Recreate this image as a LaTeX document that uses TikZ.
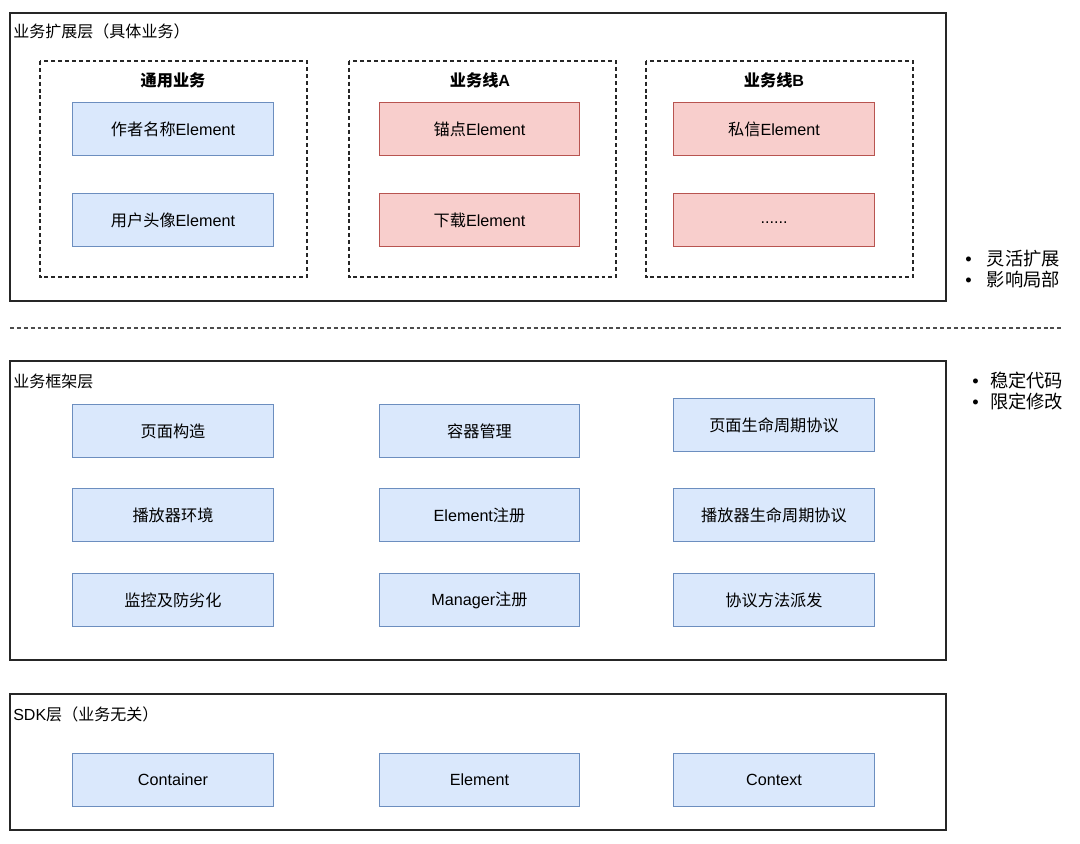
\documentclass[tikz,border=0pt]{standalone}
\usepackage{fontspec}
\setmainfont{Liberation Sans}
\newfontfamily\cjk{Noto Sans CJK SC}
\usetikzlibrary{positioning}

\definecolor{blueFill}{HTML}{DAE8FC}
\definecolor{blueLine}{HTML}{6C8EBF}
\definecolor{redFill}{HTML}{F8CECC}
\definecolor{redLine}{HTML}{B85450}

\tikzset{
  layer/.style={draw=black!85, line width=0.9pt},
  group/.style={draw=black!85, line width=0.9pt, dash pattern=on 2.8pt off 2.1pt},
  blk/.style={draw=blueLine, fill=blueFill, line width=0.7pt, minimum width=5cm,
    minimum height=1.33cm, inner sep=0pt, font=\fontsize{11.5}{14}\selectfont},
  hot/.style={blk, draw=redLine, fill=redFill},
  title/.style={anchor=west, inner sep=0pt, font=\fontsize{11.4}{14}\selectfont\cjk},
  gtitle/.style={inner sep=0pt, font=\fontsize{11.5}{14}\selectfont\cjk\bfseries},
  note/.style={anchor=west, inner sep=0pt, align=left, font=\fontsize{13}{16}\selectfont}
}

\begin{document}
\begin{tikzpicture}[x=0.025cm, y=-0.025cm]
  \useasboundingbox (0,0) rectangle (1080,843);

  % extension layer
  \draw[layer] (10,13) rectangle (946,301);
  \node[title] (extT) at (13,31) {业务扩展层（具体业务）};
  \draw[group] (40,61) rectangle (307,277);
  \draw[group] (349,61) rectangle (616,277);
  \draw[group] (646,61) rectangle (913,277);
  \node[gtitle] (g1) at (173,80) {通用业务};
  \node[gtitle] (g2) at (480,80) {业务线\textsf{\fontspec{Liberation Sans Bold}A}};
  \node[gtitle] (g3) at (774,80) {业务线\textsf{\fontspec{Liberation Sans Bold}B}};
  \node[blk] (author) at (173,129) {{\cjk 作者名称}Element};
  \node[blk] (avatar) at (173,220) {{\cjk 用户头像}Element};
  \node[hot] (anchor) at (479.5,129) {{\cjk 锚点}Element};
  \node[hot] (down) at (479.5,220) {{\cjk 下载}Element};
  \node[hot] (msg) at (774,129) {{\cjk 私信}Element};
  \node[hot] (more) at (774,220) {\vphantom{Ey}......};
  \node[note] (n1) at (965,269) {•\hspace{0.83em}{\cjk 灵活扩展}\\[-1pt]•\hspace{0.83em}{\cjk 影响局部}};

  % separator
  \draw[group, draw=black!70] (10,328) -- (1062,328);

  % framework layer
  \draw[layer] (10,361) rectangle (946,660);
  \node[title] (fwT) at (13,381) {业务框架层};
  \node[blk] (page) at (173,431) {\cjk 页面构造};
  \node[blk] (box) at (479.5,431) {\cjk 容器管理};
  \node[blk] (pageLc) at (774,425) {\cjk 页面生命周期协议};
  \node[blk] (env) at (173,515) {\cjk 播放器环境};
  \node[blk] (elReg) at (479.5,515) {Element{\cjk 注册}};
  \node[blk] (playLc) at (774,515) {\cjk 播放器生命周期协议};
  \node[blk] (mon) at (173,600) {\cjk 监控及防劣化};
  \node[blk] (mgrReg) at (479.5,600) {Manager{\cjk 注册}};
  \node[blk] (disp) at (774,600) {\cjk 协议方法派发};
  \node[note] (n2) at (972,391) {•\hspace{0.62em}{\cjk 稳定代码}\\[-1pt]•\hspace{0.62em}{\cjk 限定修改}};

  % sdk layer
  \draw[layer] (10,694) rectangle (946,830);
  \node[title] (sdkT) at (13,714) {\textrm{SDK}层（业务无关）};
  \node[blk] (cont) at (173,780) {Container};
  \node[blk] (elem) at (479.5,780) {Element};
  \node[blk] (ctx) at (774,780) {Context};
\end{tikzpicture}
\end{document}
